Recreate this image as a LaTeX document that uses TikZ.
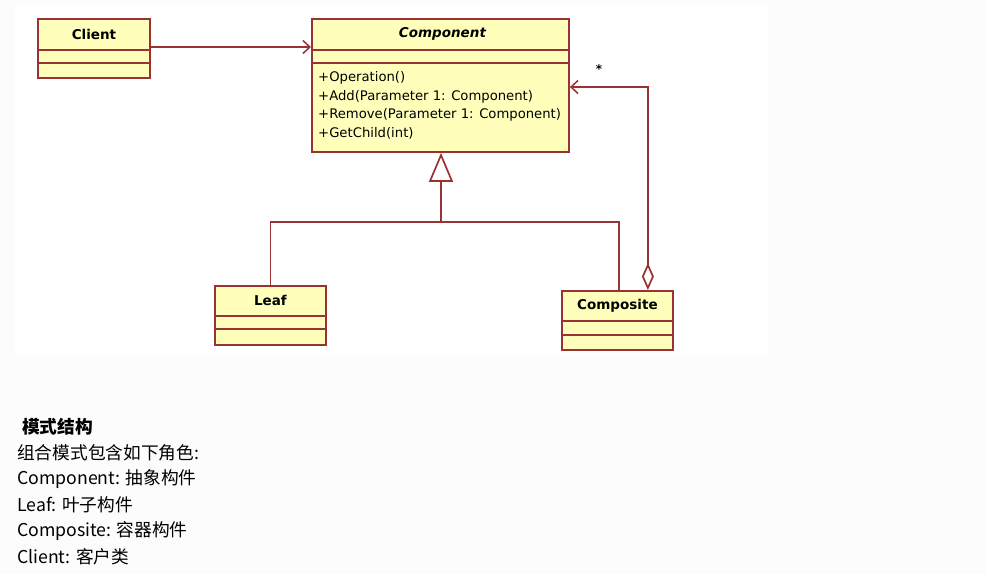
\documentclass[tikz,border=0pt]{standalone}
\usepackage{fontspec}
\setmainfont{DejaVu Sans}
\newfontfamily\cjk{Noto Sans CJK SC}
\usetikzlibrary{arrows.meta,calc}
\definecolor{umlred}{RGB}{153,51,51}
\definecolor{umlfill}{RGB}{255,255,187}
\definecolor{bggray}{RGB}{252,252,252}
\begin{document}
\begin{tikzpicture}[x=1pt,y=-1pt,
  cls/.style={draw=umlred, fill=umlfill, line width=1.9pt, rectangle, inner sep=0pt, anchor=north west},
  sep/.style={draw=umlred, line width=1.7pt},
  conn/.style={draw=umlred, line width=1.7pt},
  title/.style={font=\bfseries\fontsize{13.5}{15}\selectfont, inner sep=0pt},
  meth/.style={font=\fontsize{13.2}{15}\selectfont, inner sep=0pt, anchor=west},
  body/.style={font=\cjk\fontsize{17.7}{20}\selectfont, inner sep=0pt, anchor=west},
]
\useasboundingbox (0,0) rectangle (986,574);
\fill[bggray] (0,0) rectangle (986,574);
\fill[white] (15,5) rectangle (768,355);

% Client
\node[cls, minimum width=112pt, minimum height=59pt] (client) at (37,18) {};
\draw[sep] ($(client.north west)+(0,32)$) -- ($(client.north east)+(0,32)$);
\draw[sep] ($(client.north west)+(0,45)$) -- ($(client.north east)+(0,45)$);
\node[title] (clientt) at ($(client.north)+(0,16)$) {Client};

% Component
\node[cls, minimum width=257pt, minimum height=133pt] (comp) at (311,18) {};
\draw[sep] ($(comp.north west)+(0,32)$) -- ($(comp.north east)+(0,32)$);
\draw[sep] ($(comp.north west)+(0,45)$) -- ($(comp.north east)+(0,45)$);
\node[title, font=\bfseries\itshape\fontsize{13.5}{15}\selectfont] (compt) at ($(comp.north)+(2,16)$) {Component};
\node[meth] (m1) at (318,78) {+Operation()};
\node[meth] (m2) at (318,97) {+Add(Parameter 1: Component)};
\node[meth] (m3) at (318,115) {+Remove(Parameter 1: Component)};
\node[meth] (m4) at (318,133) {+GetChild(int)};

% Leaf
\node[cls, minimum width=111pt, minimum height=59pt] (leaf) at (214,285) {};
\draw[sep] ($(leaf.north west)+(0,31)$) -- ($(leaf.north east)+(0,31)$);
\draw[sep] ($(leaf.north west)+(0,44)$) -- ($(leaf.north east)+(0,44)$);
\node[title] (leaft) at ($(leaf.north)+(0,15)$) {Leaf};

% Composite
\node[cls, minimum width=111pt, minimum height=59pt] (compo) at (561,290) {};
\draw[sep] ($(compo.north west)+(0,31)$) -- ($(compo.north east)+(0,31)$);
\draw[sep] ($(compo.north west)+(0,45)$) -- ($(compo.north east)+(0,45)$);
\node[title] (compot) at ($(compo.north)+(0,16)$) {Composite};

% Client -> Component
\draw[conn, -{Straight Barb[length=7pt,width=13pt,line width=1.5pt]}] ($(client.north east)+(0,29)$) -- ($(comp.north west)+(0,29)$);

% Generalization
\coordinate (junc) at (441,222);
\draw[conn, -{Triangle[open,length=29pt,width=24pt,line width=1.7pt]}] (junc) -- (comp.south -| junc);
\draw[conn] (leaf.north) |- (junc) -| ($(compo.north)+(1.5,0)$);

% Aggregation
\coordinate (aggs) at ($(compo.north east)+(-26,0)$);
\coordinate (agge) at ($(comp.north east)+(0,69)$);
\draw[conn, {Diamond[open,length=27pt,width=12pt,line width=1.7pt]}-{Straight Barb[length=7pt,width=13pt,line width=1.5pt]}] (aggs) |- (agge);
\node[font=\bfseries\fontsize{12}{12}\selectfont, inner sep=0pt] (star) at (599,69) {*};

% Text
\node[body, font=\cjk\bfseries\fontsize{17.7}{20}\selectfont] (h) at (22,427) {模式结构};
\node[body] (l1) at (17,453) {组合模式包含如下角色:};
\node[body] (l2) at (17,479) {Component: 抽象构件};
\node[body] (l3) at (17,505) {Leaf: 叶子构件};
\node[body] (l4) at (17,531) {Composite: 容器构件};
\node[body] (l5) at (17,557) {Client: 客户类};
\end{tikzpicture}
\end{document}
